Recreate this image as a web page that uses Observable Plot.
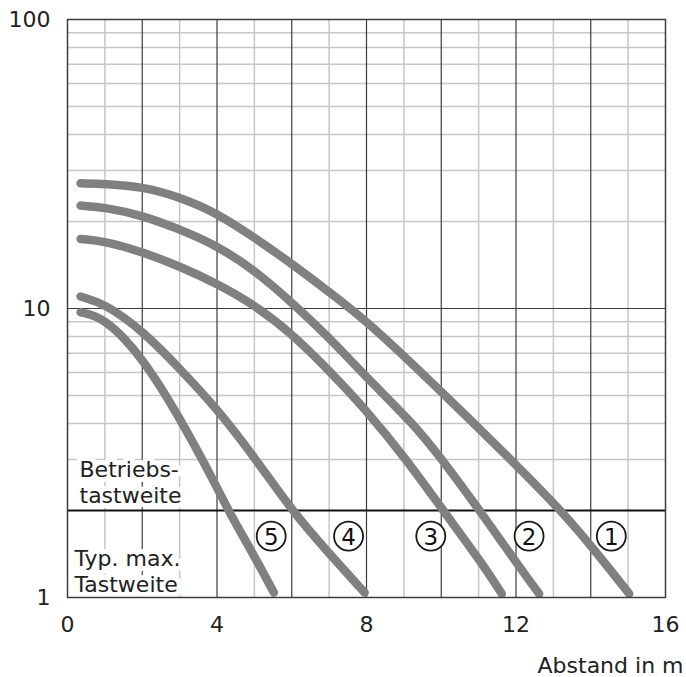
<!DOCTYPE html>
<html>
<head>
<meta charset="utf-8">
<script src="https://cdn.jsdelivr.net/npm/d3@7"></script>
<script src="https://cdn.jsdelivr.net/npm/@observablehq/plot@0.6"></script>
<style>
  html, body { margin: 0; padding: 0; background: #fff; }
  #chart svg { display: block; }
</style>
</head>
<body>
<div id="chart"></div>
<script>
// ---- data ----
const curve1X = [0.35, 1, 2, 3, 4, 5, 6, 7, 8, 10.07, 12.1, 13.2, 14.03, 15.03];
const curve1Y = [27.1, 27.0, 26.4, 24.3, 21.4, 17.6, 14.3, 11.4, 9.1, 5.06, 2.8, 2.0, 1.5, 1.03];

const curve2X = [0.35, 1, 2, 3, 4, 5, 6, 7, 8, 9.25, 10.0, 11.03, 12.1, 12.62];
const curve2Y = [22.7, 22.4, 21.0, 18.8, 16.5, 13.6, 10.5, 7.94, 5.77, 4.0, 3.03, 2.0, 1.27, 1.03];

const curve3X = [0.35, 1, 2, 3, 4, 5, 6, 7, 8, 9.07, 10.05, 11.1, 11.62];
const curve3Y = [17.4, 17.1, 15.7, 14.0, 12.2, 10.3, 8.2, 6.1, 4.44, 3.0, 2.0, 1.31, 1.03];

const curve4X = [0.35, 1, 2, 3, 4, 5, 6, 7, 7.95];
const curve4Y = [11.0, 10.4, 8.4, 6.2, 4.5, 3.06, 2.0, 1.42, 1.04];

const curve5X = [0.35, 1, 2, 3, 4, 4.3, 5, 5.52];
const curve5Y = [9.7, 9.3, 6.8, 4.2, 2.41, 2.0, 1.39, 1.04];

const curveNames = ["1", "2", "3", "4", "5"];
const curveLabelX = [14.55, 12.35, 9.72, 7.52, 5.45];
const curveLabelLevel = 1.63;

const threshold = 2;           // Betriebstastweite / typ. max. Tastweite boundary
const xTicks = [0, 4, 8, 12, 16];
const yTicks = [1, 10, 100];
const xMajorGrid = [2, 4, 6, 8, 10, 12, 14];
const xMinorGrid = [1, 3, 5, 7, 9, 11, 13, 15];
const yMajorGrid = [10];
const yMinorGrid = [3, 4, 5, 6, 7, 8, 9, 20, 30, 40, 50, 60, 70, 80, 90];

const upperLabel = "Betriebs-\ntastweite";
const lowerLabel = "Typ. max.\nTastweite";
const xLabel = "Abstand in m";

// ---- build table ----
const xs = [curve1X, curve2X, curve3X, curve4X, curve5X];
const ys = [curve1Y, curve2Y, curve3Y, curve4Y, curve5Y];
const rows = [];
xs.forEach((arr, i) => arr.forEach((x, j) => rows.push({series: curveNames[i], x, y: ys[i][j]})));
const labels = curveNames.map((n, i) => ({name: n, x: curveLabelX[i], y: curveLabelLevel}));

const FONT = "DejaVu Sans";
const gridLight = "#c6c6c6";
const gridDark = "#3c3c3c";
const ink = "#222";

const chart = Plot.plot({
  width: 686,
  height: 677,
  marginLeft: 67,
  marginRight: 21,
  marginTop: 19,
  marginBottom: 80,
  style: {fontFamily: FONT, background: "#fff", color: ink},
  x: {domain: [0, 16]},
  y: {type: "log", domain: [1, 100]},
  marks: [
    Plot.ruleX(xMinorGrid, {stroke: gridLight, strokeWidth: 1.5}),
    Plot.ruleY(yMinorGrid, {stroke: gridLight, strokeWidth: 1.5}),
    Plot.ruleX(xMajorGrid, {stroke: gridDark, strokeWidth: 1.2}),
    Plot.ruleY(yMajorGrid, {stroke: gridDark, strokeWidth: 1.2}),
    Plot.ruleY([threshold], {stroke: "#111", strokeWidth: 2}),
    Plot.text([upperLabel], {x: 0, y: threshold, text: d => d, textAnchor: "start", lineAnchor: "bottom",
      dx: 12, dy: -8, fontSize: 22, lineHeight: 1.18, fill: ink, stroke: "white", strokeWidth: 10}),
    Plot.text([lowerLabel], {x: 0, y: 1, text: d => d, textAnchor: "start", lineAnchor: "bottom",
      dx: 7, dy: -6, fontSize: 22, lineHeight: 1.16, fill: ink, stroke: "white", strokeWidth: 10}),
    Plot.line(rows, {x: "x", y: "y", z: "series", stroke: "#808080", strokeWidth: 8.5,
      strokeLinecap: "round", strokeLinejoin: "round", curve: "basis"}),
    Plot.dot(labels, {x: "x", y: "y", r: 14.5, fill: "white", stroke: "#1a1a1a", strokeWidth: 1.8}),
    Plot.text(labels, {x: "x", y: "y", text: "name", fontSize: 23, fill: "#111", dy: 1}),
    Plot.frame({stroke: gridDark, strokeWidth: 1.5}),
    Plot.axisY({ticks: yTicks, tickSize: 0, tickPadding: 17, fontSize: 22, tickFormat: d => String(d), label: null}),
    Plot.axisX({ticks: xTicks, tickSize: 0, tickPadding: 19, fontSize: 22, tickFormat: d => String(d), label: null}),
    Plot.text([xLabel], {frameAnchor: "bottom-right", text: d => d, textAnchor: "end", lineAnchor: "bottom",
      dx: 18, dy: 75, fontSize: 22, fill: ink})
  ]
});
document.getElementById("chart").appendChild(chart);
</script>
</body>
</html>
